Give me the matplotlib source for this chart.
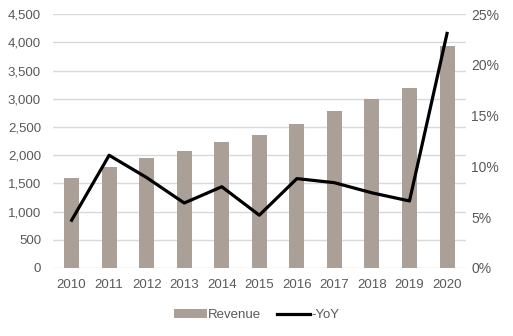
import matplotlib
matplotlib.use("Agg")
import matplotlib.pyplot as plt
from matplotlib.ticker import FuncFormatter

# chart values
years = ["2010", "2011", "2012", "2013", "2014", "2015", "2016", "2017", "2018", "2019", "2020"]
revenue = [1595, 1790, 1950, 2073, 2232, 2357, 2551, 2782, 2994, 3189, 3933]
yoy = [4.7, 11.1, 8.9, 6.4, 8.0, 5.2, 8.8, 8.4, 7.4, 6.6, 23.1]

plt.rcParams["font.family"] = ["Liberation Sans", "DejaVu Sans"]
text_col = "#595959"

fig = plt.figure(figsize=(5.13, 3.36), dpi=100)
ax = fig.add_axes([0.103, 0.2024, 0.805, 0.7556])
ax2 = ax.twinx()

x = list(range(len(years)))
bars = ax.bar(x, revenue, width=0.4, color="#aba098", label="Revenue", zorder=2)
line, = ax2.plot(x, yoy, color="black", lw=2.3, label="-YoY", zorder=3)

# left axis
ax.set_ylim(0, 4500)
ax.set_yticks(range(0, 4501, 500))
ax.yaxis.set_major_formatter(FuncFormatter(lambda v, p: f"{int(v):,}"))
ax.set_xlim(-0.5, len(years) - 0.5)
ax.set_xticks(x)
ax.set_xticklabels(years)
ax.grid(axis="y", color="#d9d9d9", lw=1, zorder=0)
ax.set_axisbelow(True)

# right axis
ax2.set_ylim(0, 25)
ax2.set_yticks(range(0, 26, 5))
ax2.yaxis.set_major_formatter(FuncFormatter(lambda v, p: f"{int(v)}%"))

for a in (ax, ax2):
    for s in a.spines.values():
        s.set_visible(False)
    a.tick_params(length=0, colors=text_col, labelsize=9.5)
ax.tick_params(axis="y", pad=8.5)
ax.tick_params(axis="x", pad=8)
ax2.tick_params(axis="y", pad=4, labelsize=10)

leg = fig.legend([bars, line], ["Revenue", "-YoY"], loc="center", bbox_to_anchor=(0.5, 0.062),
                 ncol=2, frameon=False, fontsize=9.5, handlelength=2.5, handletextpad=0.1,
                 columnspacing=1.2)
for t in leg.get_texts():
    t.set_color(text_col)

fig.savefig("out.png", dpi=100)
